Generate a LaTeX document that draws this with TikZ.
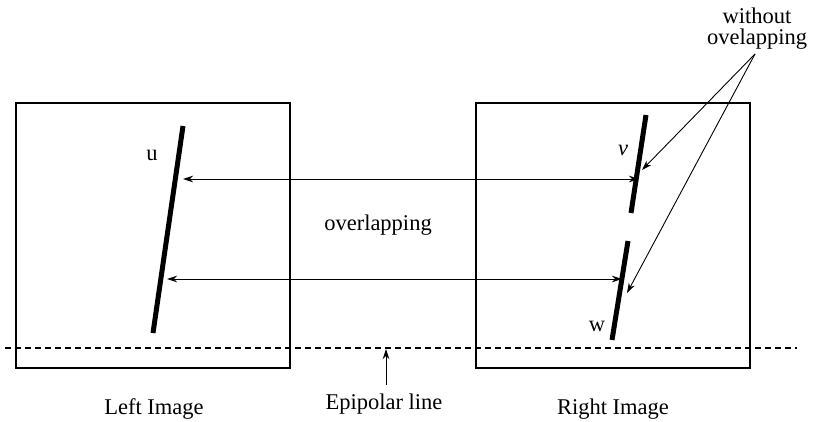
\documentclass[tikz,border=0pt]{standalone}
\usepackage{fontspec}
\setmainfont{Liberation Serif}
\usetikzlibrary{arrows.meta}
\begin{document}
\begin{tikzpicture}[x=1pt,y=-1pt,
  lbl/.style={font=\fontsize{22.5}{21}\selectfont, inner sep=0pt},
  imgbox/.style={draw, line width=2.4pt},
  seg/.style={line width=5pt},
  arr/.style={line width=0.9pt, -{Stealth[length=10pt,width=6.5pt]}},
  darr/.style={line width=0.9pt, {Stealth[length=10pt,width=6.5pt]}-{Stealth[length=10pt,width=6.5pt]}}]
\useasboundingbox (0,0) rectangle (817,421);
% image boxes
\draw[imgbox] (16,103) rectangle (290,368);
\draw[imgbox] (476,103) rectangle (750,368);
% epipolar line
\coordinate (e1) at (5,348);
\coordinate (e2) at (797,348);
\draw[line width=1.1pt, dash pattern=on 6pt off 4pt] (e1) -- (e2);
% segments
\coordinate (ua) at (183,126); \coordinate (ub) at (153,333);
\coordinate (va) at (646,115); \coordinate (vb) at (631,213);
\coordinate (wa) at (628,241); \coordinate (wb) at (612,340);
\draw[seg] (ua) -- (ub);
\draw[seg] (va) -- (vb);
\draw[seg] (wa) -- (wb);
\node[lbl] (u) at (152,155) {u};
\node[lbl] (v) at (623,150) {\itshape v};
\node[lbl] (w) at (597,326) {w};
% correspondence arrows
\coordinate (a1l) at (183,179); \coordinate (a1r) at (639,179);
\coordinate (a2l) at (167,279); \coordinate (a2r) at (622,279);
\draw[darr] (a1l) -- (a1r);
\draw[darr] (a2l) -- (a2r);
\node[lbl] (ov) at (378,225) {overlapping};
% without overlapping
\node[lbl, align=center] (wo) at (757,29) {without\\ovelapping};
\coordinate (wos) at (755,54);
\coordinate (vt) at (642,170);
\coordinate (wt) at (627,293);
\draw[arr] (wos) -- (vt);
\draw[arr] (wos) -- (wt);
% epipolar label
\node[lbl] (ep) at (384,404) {Epipolar line};
\coordinate (ept) at (386,349);
\coordinate (eps) at (386,385);
\draw[arr] (eps) -- (ept);
\node[lbl] (li) at (154,409) {Left Image};
\node[lbl] (ri) at (613,409) {Right Image};
\end{tikzpicture}
\end{document}
